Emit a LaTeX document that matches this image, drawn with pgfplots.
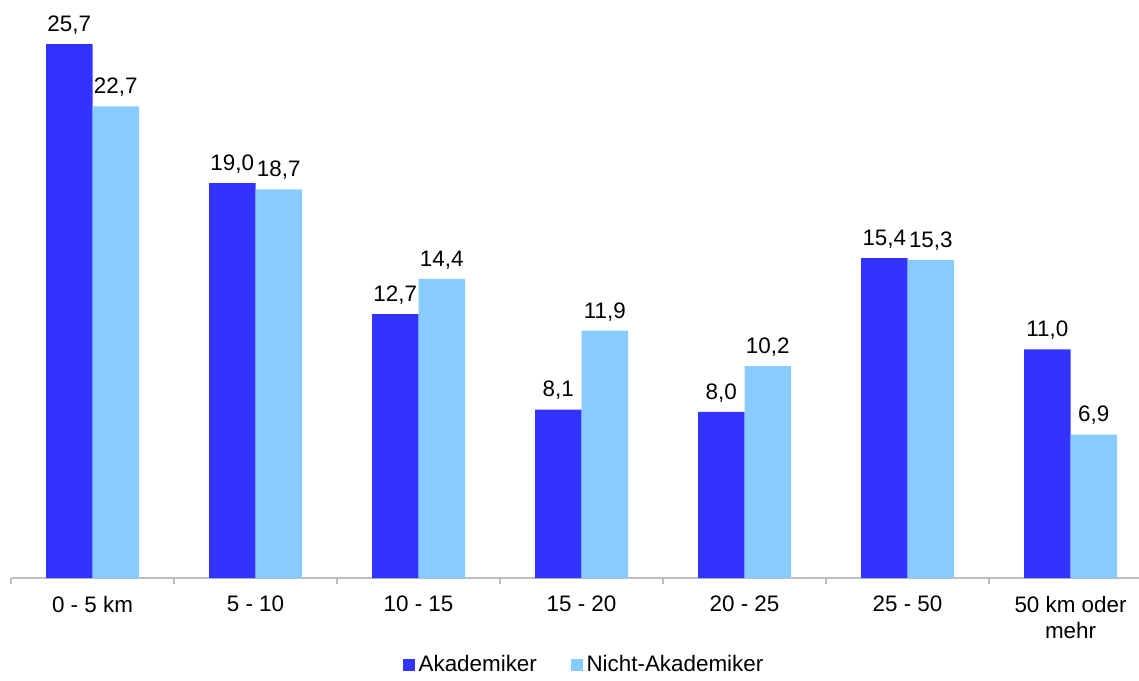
\documentclass[border=0pt]{standalone}
\usepackage{pgfplots}
\pgfplotsset{compat=1.18}
\usepackage{fontspec}
\setmainfont{Liberation Sans}
\definecolor{ak}{RGB}{51,51,255}
\definecolor{nak}{RGB}{136,204,255}
\definecolor{axgray}{RGB}{190,190,190}
\begin{document}
\fontsize{11.2}{13}\selectfont
\begin{tikzpicture}
\useasboundingbox (0,0) rectangle (569.5pt,340pt);
\begin{axis}[
  at={(5.5pt,51pt)}, anchor=south west,
  scale only axis, width=564pt, height=280.5pt,
  ybar=0pt, bar width=23.25pt,
  xmin=-0.5, xmax=6.42, ymin=0, ymax=27,
  axis x line*=bottom, axis y line=none, ytick=\empty,
  x axis line style={-, axgray, line width=0.6pt},
  xtick={0,...,6},
  xticklabels={0 - 5 km, 5 - 10, 10 - 15, 15 - 20, 20 - 25, 25 - 50, {50 km oder\\mehr}},
  major tick length=0pt,
  minor xtick={-0.5,0.5,...,5.5},
  minor tick length=3pt, tick align=outside,
  minor tick style={axgray, line width=0.6pt},
  x tick label style={align=center, font=\fontsize{11.2}{13}\selectfont, yshift=-5pt},
  /pgf/number format/.cd, fixed, fixed zerofill, precision=1, use comma, assume math mode=true,
  /pgfplots/.cd,
  nodes near coords,
  nodes near coords style={font=\fontsize{11.2}{13}\selectfont, black, yshift=1pt},
  legend style={at={(0.509,-0.155)}, anchor=center, legend columns=-1, draw=none,
    font=\fontsize{11.2}{13}\selectfont,
    /tikz/every even column/.append style={column sep=15pt},
    /tikz/every odd column/.append style={column sep=0pt}},
  legend image code/.code={\fill[#1] (0pt,-2.9pt) rectangle (5.8pt,2.9pt);},
  enlarge y limits=false,
]
\addplot[fill=ak, draw=none] coordinates {(0,25.7) (1,19.0) (2,12.7) (3,8.1) (4,8.0) (5,15.4) (6,11.0)};
\addplot[fill=nak, draw=none] coordinates {(0,22.7) (1,18.7) (2,14.4) (3,11.9) (4,10.2) (5,15.3) (6,6.9)};
\legend{Akademiker, Nicht-Akademiker}
\end{axis}
\end{tikzpicture}
\end{document}
